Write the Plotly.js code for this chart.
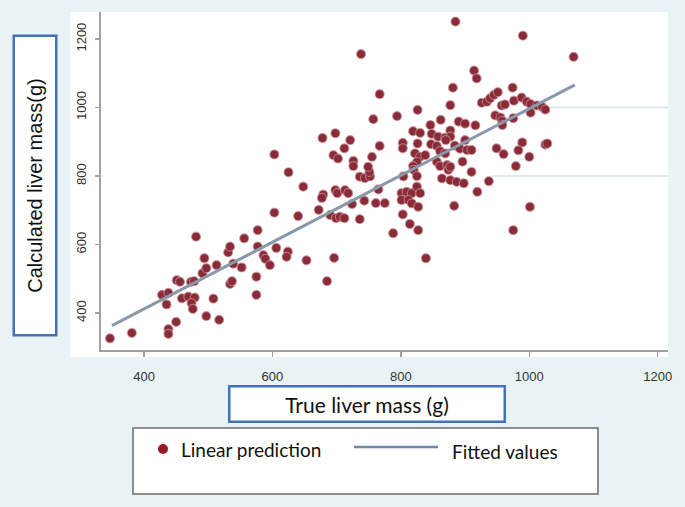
<!DOCTYPE html>
<html>
<head>
<meta charset="utf-8">
<script src="https://cdn.plot.ly/plotly-3.0.1.min.js"></script>
<style>html,body{margin:0;padding:0;background:#e9f3f5;}#chart{width:685px;height:507px;}</style>
</head>
<body>
<div id="chart"></div>
<script>
// True liver mass (g) vs calculated liver mass (g): linear prediction points
var trueMass = [347,381,438,438,450,435,428,438,451,456,473,478,459,469,479,474,476,508,497,517,
491,497,494,513,481,534,537,531,534,539,552,556,575,575,577,577,586,589,596,603,
606,624,622,640,653,648,672,679,677,685,696,690,699,705,712,698,701,713,718,724,
736,743,761,775,765,788,625,603,695,702,726,726,736,744,752,751,749,755,738,767,
757,794,698,678,721,712,767,803,803,819,830,826,826,846,862,848,858,869,877,877,
870,877,881,885,990,1069,914,918,974,926,934,939,945,951,957,962,976,988,996,1002,
1012,1020,1025,1002,947,955,958,958,975,890,900,916,900,884,892,903,910,847,856,861,
869,822,830,838,825,819,820,825,804,856,861,872,874,877,864,877,887,898,896,910,
919,883,937,801,809,817,825,830,801,812,817,827,803,814,827,839,949,960,989,983,
1000,1025,1028,979,1001,975];
var calcMass = [326,342,353,339,374,425,453,459,496,491,491,493,443,448,445,429,412,442,391,380,
516,531,560,540,623,485,493,577,594,544,533,618,506,453,642,594,569,558,540,693,
590,579,564,683,554,769,701,746,736,493,561,686,677,681,677,759,750,759,750,718,
674,728,721,721,761,633,811,863,861,851,844,829,798,794,799,812,827,856,1156,1039,
966,975,925,911,905,881,888,897,881,931,926,895,993,949,964,923,915,912,933,915,
905,1007,1058,1251,1210,1148,1108,1085,1058,1014,1017,1027,1037,1045,1006,1009,1020,1029,1017,1010,
1006,1002,994,985,977,971,961,949,969,959,953,948,905,889,880,876,876,893,888,873,
866,866,856,861,841,829,818,800,799,842,829,832,818,827,793,788,783,779,842,812,
754,713,785,750,754,750,769,750,730,730,720,710,688,660,642,560,881,864,898,875,
856,892,895,829,710,642];
// Fitted values (regression line endpoints)
var fitX = [350, 1071];
var fitY = [363, 1066];

var xTicks = [400, 600, 800, 1000, 1200];
var yTicks = [400, 600, 800, 1000, 1200];
var xTitle = 'True liver mass (g)';
var yTitle = 'Calculated liver mass(g)';
var legendLabels = ['Linear prediction', 'Fitted values'];

var pointColor = '#8a2c38';
var lineColor = '#8799aa';

var traces = [
  {type:'scatter', mode:'markers', x:trueMass, y:calcMass, name:legendLabels[0],
   marker:{color:pointColor, size:9, line:{color:'rgba(200,145,155,0.7)', width:1.2}},
   showlegend:false, cliponaxis:false},
  {type:'scatter', mode:'lines', x:fitX, y:fitY, name:legendLabels[1],
   line:{color:lineColor, width:3}, showlegend:false}
];

var L = 101, T = 12, PW = 567, PH = 338;
function px(x){return (x - L)/PW;}
function py(y){return (T + PH - y)/PH;}

var layout = {
  width:685, height:507,
  paper_bgcolor:'#e9f3f5', plot_bgcolor:'#ffffff',
  margin:{l:L, r:685-L-PW, t:T, b:507-T-PH, pad:0},
  font:{family:'Liberation Sans, Arial, sans-serif', color:'#222'},
  xaxis:{range:[333,1216], tickvals:xTicks, ticktext:xTicks.map(String), ticks:'outside', ticklen:5,
         tickcolor:'#a0a0a0', tickwidth:1.5, showline:true, linecolor:'#a0a0a0', linewidth:2,
         showgrid:false, zeroline:false, ticklabelstandoff:8,
         tickfont:{size:13, color:'#333', family:'Liberation Sans, Arial, sans-serif'}},
  yaxis:{range:[292,1279], tickvals:yTicks, ticktext:yTicks.map(String), ticks:'outside', ticklen:4,
         tickcolor:'#a0a0a0', tickwidth:1.5, showline:true, linecolor:'#a0a0a0', linewidth:2,
         showgrid:false, zeroline:false, tickangle:-90, ticklabelstandoff:4,
         tickfont:{size:13, color:'#333', family:'Liberation Sans, Arial, sans-serif'}},
  shapes:[
    {type:'rect', xref:'paper', yref:'paper', x0:px(70), x1:px(668), y0:py(357), y1:py(12),
     fillcolor:'#ffffff', line:{width:0}, layer:'below'},
    {type:'line', xref:'paper', yref:'y', x0:px(550), x1:1, y0:yTicks[3], y1:yTicks[3],
     line:{color:'#dfe9ed', width:2}, layer:'below'},
    {type:'line', xref:'paper', yref:'y', x0:px(492), x1:1, y0:yTicks[2], y1:yTicks[2],
     line:{color:'#dfe9ed', width:2}, layer:'below'},
    // legend box
    {type:'rect', xref:'paper', yref:'paper', x0:px(133), x1:px(598), y0:py(494), y1:py(428),
     fillcolor:'#ffffff', line:{color:'#8c8c8c', width:2}},
    {type:'circle', xref:'paper', yref:'paper', xsizemode:'pixel', ysizemode:'pixel',
     xanchor:px(163), yanchor:py(449), x0:-5, x1:5, y0:-5, y1:5,
     fillcolor:'#9a1726', line:{width:0}},
    {type:'line', xref:'paper', yref:'paper', x0:px(354), x1:px(438), y0:py(447), y1:py(447),
     line:{color:'#7089a8', width:2.5}}
  ],
  annotations:[
    {xref:'paper', yref:'paper', x:px(35), y:py(185.5), text:yTitle, textangle:-90, showarrow:false,
     xanchor:'center', yanchor:'middle', width:297, height:40, bgcolor:'#ffffff',
     bordercolor:'#4571b9', borderwidth:2.5, borderpad:0,
     font:{family:'Liberation Sans, Arial, sans-serif', size:20, color:'#111'}},
    {xref:'paper', yref:'paper', x:px(366.5), y:py(403.5), text:xTitle, showarrow:false,
     xanchor:'center', yanchor:'middle', width:273, height:33, bgcolor:'#ffffff',
     bordercolor:'#4571b9', borderwidth:2.5, borderpad:0,
     font:{family:'Lato, sans-serif', size:21, color:'#111'}},
    {xref:'paper', yref:'paper', x:px(179), y:py(449), text:legendLabels[0], showarrow:false,
     xanchor:'left', yanchor:'middle', font:{family:'Lato, sans-serif', size:19, color:'#111'}},
    {xref:'paper', yref:'paper', x:px(450), y:py(451), text:legendLabels[1], showarrow:false,
     xanchor:'left', yanchor:'middle', font:{family:'Lato, sans-serif', size:19, color:'#111'}}
  ]
};

Plotly.newPlot('chart', traces, layout, {displayModeBar:false, staticPlot:true});
</script>
</body>
</html>
